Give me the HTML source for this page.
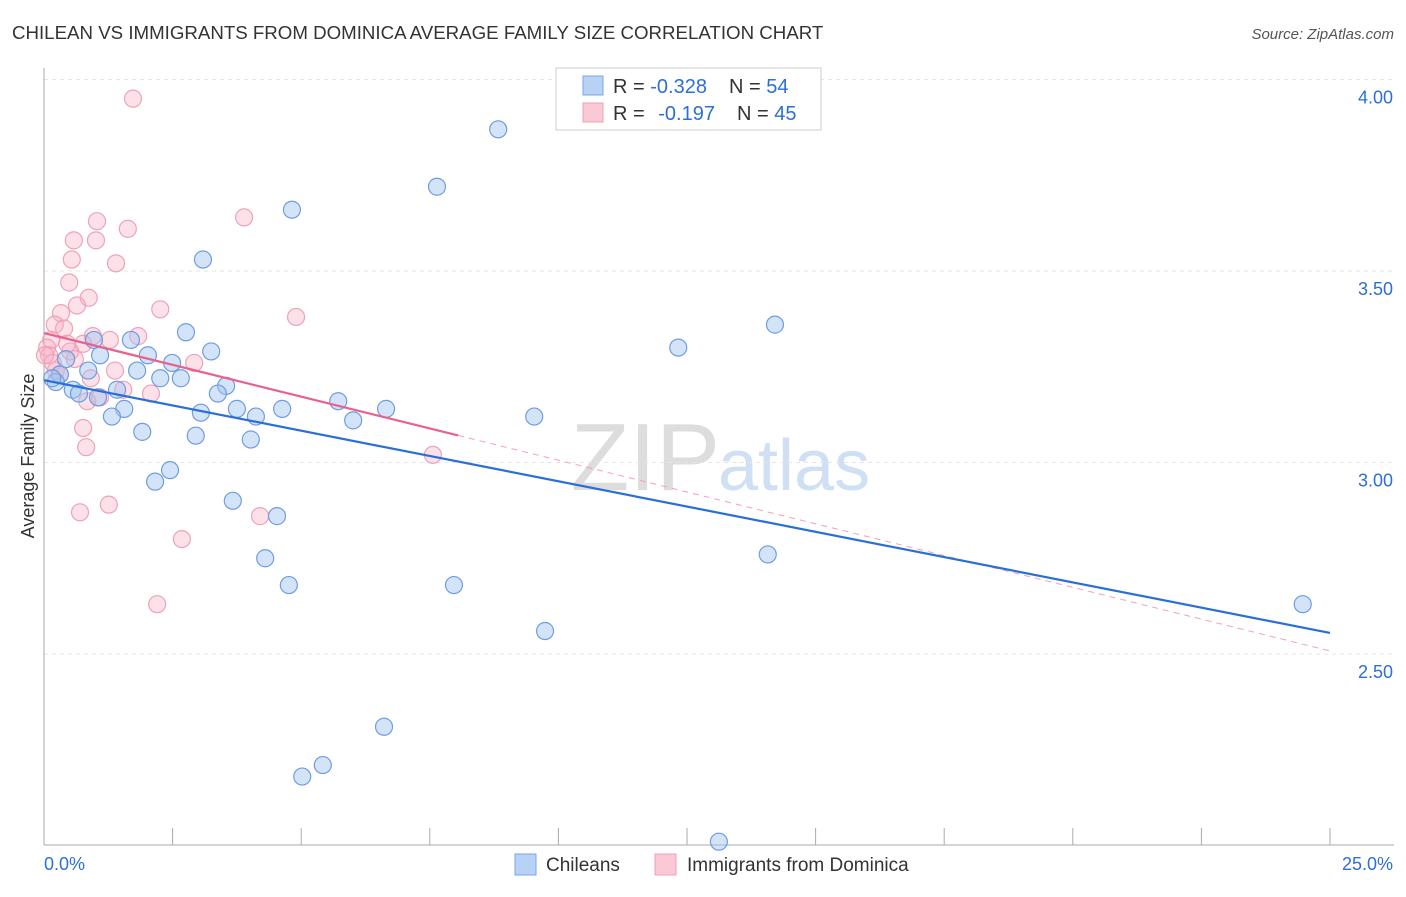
<!DOCTYPE html>
<html><head><meta charset="utf-8"><style>
body{margin:0;background:#fff;font-family:"Liberation Sans",sans-serif}
svg text{font-family:"Liberation Sans",sans-serif}
</style></head><body>
<svg id="c" width="1406" height="892">
<text x="12" y="39" font-size="18.7" fill="#333">CHILEAN VS IMMIGRANTS FROM DOMINICA AVERAGE FAMILY SIZE CORRELATION CHART</text>
<text x="1394" y="39" font-size="15" fill="#555" font-style="italic" text-anchor="end">Source: ZipAtlas.com</text>
<text x="720" y="490" font-size="96" fill="#ddd" font-family="Liberation Serif" text-anchor="end">ZIP</text>
<text x="718" y="490" font-size="72" fill="#cfe0f4">atlas</text>
<text x="34" y="456" font-size="18" fill="#333" text-anchor="middle" transform="rotate(-90 34 456)">Average Family Size</text>
<g id="grid"></g><g id="pts"></g><g id="lines"></g>
<g>
<rect x="556" y="68" width="265" height="62" fill="#fff" stroke="#ccc"/>
<rect x="583" y="76" width="20" height="19" fill="#b8d2f5" stroke="#7aa6e6"/>
<rect x="583" y="103" width="20" height="19" fill="#fbc8d6" stroke="#f0a0b8"/>
<text x="613" y="93" font-size="20" fill="#333">R = <tspan fill="#2c6fd6">-0.328</tspan><tspan dx="22">N = </tspan><tspan fill="#2c6fd6">54</tspan></text>
<text x="613" y="120" font-size="20" fill="#333">R = <tspan dx="8" fill="#2c6fd6">-0.197</tspan><tspan dx="22">N = </tspan><tspan fill="#2c6fd6">45</tspan></text>
</g>
<g>
<rect x="515" y="854" width="21" height="21" fill="#b8d2f5" stroke="#7aa6e6"/>
<text x="546" y="871" font-size="19" fill="#333">Chileans</text>
<rect x="655" y="854" width="21" height="21" fill="#fbc8d6" stroke="#f0a0b8"/>
<text x="687" y="871" font-size="19" fill="#333">Immigrants from Dominica</text>
</g>
<text x="44" y="870" font-size="18" fill="#2c6fd6">0.0%</text>
<text x="1393" y="870" font-size="18" fill="#2c6fd6" text-anchor="end">25.0%</text>
</svg>
<script>
const yTicks=[4.0,3.5,3.0,2.5];
const yTickLabels=["4.00","3.50","3.00","2.50"];
const xTicks=[0,2.5,5,7.5,10,12.5,15,17.5,20,22.5,25];
const blueX=[8.83,7.64,4.82,3.09,14.21,12.33,2.76,1.69,0.97,3.25,2.02,2.49,1.81,0.86,0.31,0.23,2.26,2.66,3.54,3.38,1.42,0.56,0.68,1.05,5.72,6.65,4.63,3.75,1.56,3.05,4.12,1.32,9.53,6.01,1.91,2.95,4.02,2.45,2.16,3.67,4.53,4.30,14.07,4.76,7.97,24.47,9.74,6.61,5.42,5.02,13.12,0.16,0.43,1.09];
const blueY=[3.87,3.72,3.66,3.53,3.36,3.30,3.34,3.32,3.32,3.29,3.28,3.26,3.24,3.24,3.23,3.21,3.22,3.22,3.20,3.18,3.19,3.19,3.18,3.17,3.16,3.14,3.14,3.14,3.14,3.13,3.12,3.12,3.12,3.11,3.08,3.07,3.06,2.98,2.95,2.90,2.86,2.75,2.76,2.68,2.68,2.63,2.56,2.31,2.21,2.18,2.01,3.22,3.27,3.28];
const pinkX=[1.73,1.03,1.63,3.89,0.58,1.01,0.54,1.40,0.49,0.87,0.64,2.26,0.33,4.90,0.21,0.39,0.95,1.28,1.83,0.14,0.76,0.06,0.51,0.10,2.92,0.17,0.60,1.38,0.91,0.31,1.54,2.08,1.09,0.84,0.76,0.82,7.56,1.26,0.70,4.20,2.68,2.20,0.23,0.02,0.45];
const pinkY=[3.95,3.63,3.61,3.64,3.58,3.58,3.53,3.52,3.47,3.43,3.41,3.40,3.39,3.38,3.36,3.35,3.33,3.32,3.33,3.32,3.31,3.30,3.29,3.28,3.26,3.26,3.27,3.24,3.22,3.23,3.19,3.18,3.17,3.16,3.09,3.04,3.02,2.89,2.87,2.86,2.80,2.63,3.24,3.28,3.31];
const blueTrend=[3.215,2.555];
const pinkTrend=[3.338,2.508];
const pinkSolidEnd=8.05;
const NS='http://www.w3.org/2000/svg';
const sx=v=>44+v/25*1286, sy=v=>79.5+(4-v)*383;
function mk(t,a,p){const e=document.createElementNS(NS,t);for(const k in a)e.setAttribute(k,a[k]);p.appendChild(e);return e;}
const grid=document.getElementById('grid');
yTicks.forEach((t,i)=>{
 const l=mk('line',{x1:44,x2:1394,y1:sy(t),y2:sy(t),stroke:'#e6e6e6','stroke-dasharray':'4 4'},grid);
 
 
 const tx=mk('text',{x:1393,y:sy(t)+24,'font-size':18,fill:'#2c6fd6','text-anchor':'end'},grid);
 tx.textContent=yTickLabels[i];
 
 
});
const ax=mk('line',{x1:44,x2:44,y1:68,y2:845,stroke:'#aaa'},grid);


const bx=mk('line',{x1:44,x2:1394,y1:845,y2:845,stroke:'#aaa'},grid);


xTicks.forEach(t=>{
 const l=mk('line',{x1:sx(t),x2:sx(t),y1:828,y2:845,stroke:'#aaa'},grid);
 
 
});
const pts=document.getElementById('pts');
pinkX.forEach((x,i)=>{
 const c=mk('circle',{cx:sx(x),cy:sy(pinkY[i]),r:8.5,fill:'rgba(248,175,198,0.38)',stroke:'#eea2ba','stroke-width':1.2},pts);
 
 
});
blueX.forEach((x,i)=>{
 const c=mk('circle',{cx:sx(x),cy:sy(blueY[i]),r:8.5,fill:'rgba(160,195,240,0.45)',stroke:'#6f9de0','stroke-width':1.2},pts);
 
 
});
const lines=document.getElementById('lines');
const pAt=x=>pinkTrend[0]+(pinkTrend[1]-pinkTrend[0])*x/25;
const pd=mk('line',{x1:sx(pinkSolidEnd),y1:sy(pAt(pinkSolidEnd)),x2:sx(25),y2:sy(pinkTrend[1]),stroke:'#eea2ba','stroke-width':1,'stroke-dasharray':'6 5'},lines);


const bl=mk('line',{x1:sx(0),y1:sy(blueTrend[0]),x2:sx(25),y2:sy(blueTrend[1]),stroke:'#2a6fd8','stroke-width':2.2},lines);


const pl=mk('line',{x1:sx(0),y1:sy(pinkTrend[0]),x2:sx(pinkSolidEnd),y2:sy(pAt(pinkSolidEnd)),stroke:'#e8628c','stroke-width':2.2},lines);


</script>
</body></html>
